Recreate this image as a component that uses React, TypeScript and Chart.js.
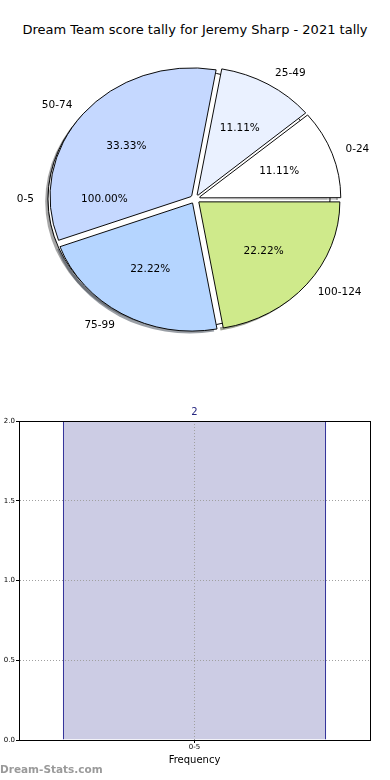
import React, { useEffect, useRef } from 'react';
import { Chart, registerables } from 'chart.js';

Chart.register(...registerables);

const CHART_TITLE = 'Dream Team score tally for Jeremy Sharp - 2021 tally';
const PIE_LABELS = ['0-24', '25-49', '50-74', '75-99', '100-124'];
const PIE_VALUES = [1, 1, 3, 2, 2];
const PIE_COLORS = ['#ffffff', '#eaf1ff', '#c5d8ff', '#b5d5ff', '#cfea8b'];
const BASE_LABELS = ['0-5'];
const BASE_VALUES = [2];
const BASE_COLORS = ['#ffffff'];
const BAR_CATEGORIES = ['0-5'];
const BAR_VALUES = [2];
const Y_TICK_VALUES = [0, 0.5, 1.0, 1.5, 2.0];
const X_AXIS_TITLE = 'Frequency';
const WATERMARK = 'Dream-Stats.com';

const FONT = '"DejaVu Sans", sans-serif';
const PIE_R = 141;
const PIE_YSCALE = 128 / 141;
const EXPLODE_MAIN = 5;
const EXPLODE_BASE = 6;
const BASE_WEIGHT = 0.001;
const SHADOW_DX = -2.8;
const SHADOW_DY = 2.6;
const TAU = Math.PI * 2;

function offsetFor(shift: number) {
  return (c: any) => {
    if (c.type !== 'data') return 0;
    const data = c.dataset.data as number[];
    const total = data.reduce((a, b) => a + b, 0);
    const circ = (data[c.dataIndex] / total) * TAU;
    return (4 * shift) / (2 - Math.sin(Math.min(Math.PI, circ)));
  };
}

function shiftOf(arc: any) {
  const o = (arc.options && arc.options.offset) || 0;
  return (o / 4) * (2 - Math.sin(Math.min(Math.PI, arc.circumference)));
}

function shadowColor(hex: string) {
  const h = String(hex).replace('#', '');
  const r = parseInt(h.slice(0, 2), 16);
  const g = parseInt(h.slice(2, 4), 16);
  const b = parseInt(h.slice(4, 6), 16);
  return `rgba(${Math.round(r * 0.3)},${Math.round(g * 0.3)},${Math.round(b * 0.3)},0.5)`;
}

function applyEllipse(ctx: CanvasRenderingContext2D, cx: number, cy: number) {
  ctx.translate(cx, cy);
  ctx.scale(1, -PIE_YSCALE);
  ctx.translate(-cx, -cy);
}

const pieDecor = {
  id: 'pieDecor',
  beforeDatasetsDraw(chart: any) {
    const ctx: CanvasRenderingContext2D = chart.ctx;
    const metas = [chart.getDatasetMeta(1), chart.getDatasetMeta(0)];
    const first = metas[1].data[0];
    const cx = first.x;
    const cy = first.y;
    ctx.save();
    ctx.translate(SHADOW_DX, SHADOW_DY);
    applyEllipse(ctx, cx, cy);
    metas.forEach((meta: any) => {
      meta.data.forEach((arc: any) => {
        const d = shiftOf(arc);
        const mid = (arc.startAngle + arc.endAngle) / 2;
        const ox = arc.x + Math.cos(mid) * d;
        const oy = arc.y + Math.sin(mid) * d;
        ctx.beginPath();
        if (arc.circumference < TAU - 1e-6) ctx.moveTo(ox, oy);
        ctx.arc(ox, oy, arc.outerRadius, arc.startAngle, arc.endAngle);
        ctx.closePath();
        ctx.fillStyle = shadowColor(arc.options.backgroundColor);
        ctx.fill();
      });
    });
    ctx.restore();
    ctx.save();
    applyEllipse(ctx, cx, cy);
  },
  afterDatasetDraw(chart: any, args: any) {
    if (args.index !== 1) return;
    const ctx: CanvasRenderingContext2D = chart.ctx;
    args.meta.data.forEach((arc: any) => {
      const d = shiftOf(arc);
      const mid = (arc.startAngle + arc.endAngle) / 2;
      const ox = arc.x + Math.cos(mid) * d;
      const oy = arc.y + Math.sin(mid) * d;
      ctx.save();
      ctx.beginPath();
      ctx.arc(ox, oy, arc.outerRadius, 0, TAU);
      ctx.lineWidth = 1;
      ctx.strokeStyle = '#000';
      ctx.stroke();
      ctx.restore();
    });
  },
  afterDatasetsDraw(chart: any) {
    chart.ctx.restore();
  },
  afterDraw(chart: any) {
    const ctx: CanvasRenderingContext2D = chart.ctx;
    ctx.save();
    ctx.font = `10.5px ${FONT}`;
    ctx.fillStyle = '#000';
    ctx.textBaseline = 'middle';
    [1, 0].forEach((di) => {
      const meta = chart.getDatasetMeta(di);
      const names: string[] = chart.data.datasets[di].sliceLabels;
      meta.data.forEach((arc: any, i: number) => {
        const d = shiftOf(arc);
        const mid = (arc.startAngle + arc.endAngle) / 2;
        const c = Math.cos(mid);
        const s = Math.sin(mid);
        const ex = arc.x + c * d;
        const ey = arc.y - PIE_YSCALE * s * d;
        const R = arc.outerRadius;
        ctx.textAlign = c > 0 ? 'left' : 'right';
        ctx.fillText(names[i], ex + 1.1 * R * c, ey - PIE_YSCALE * 1.1 * R * s);
        ctx.textAlign = 'center';
        const pct = ((arc.circumference / TAU) * 100).toFixed(2) + '%';
        ctx.fillText(pct, ex + 0.6 * R * c, ey - PIE_YSCALE * 0.6 * R * s);
      });
    });
    ctx.restore();
  },
};

const barDecor = {
  id: 'barDecor',
  afterDraw(chart: any) {
    const ctx: CanvasRenderingContext2D = chart.ctx;
    const a = chart.chartArea;
    ctx.save();
    ctx.strokeStyle = '#000';
    ctx.lineWidth = 1;
    ctx.strokeRect(
      Math.round(a.left) + 0.5,
      Math.round(a.top) + 0.5,
      Math.round(a.right - a.left),
      Math.round(a.bottom - a.top)
    );
    const meta = chart.getDatasetMeta(0);
    ctx.font = `10px ${FONT}`;
    ctx.fillStyle = '#262680';
    ctx.textAlign = 'center';
    ctx.textBaseline = 'middle';
    meta.data.forEach((bar: any, i: number) => {
      ctx.fillText(String(chart.data.datasets[0].data[i]), bar.x, bar.y - 9);
    });
    ctx.font = `bold 10.5px ${FONT}`;
    ctx.fillStyle = '#9a9a9a';
    ctx.textAlign = 'left';
    ctx.textBaseline = 'alphabetic';
    ctx.fillText(WATERMARK, 0, 383);
    ctx.restore();
  },
};

export default function App() {
  const pieRef = useRef<HTMLCanvasElement | null>(null);
  const barRef = useRef<HTMLCanvasElement | null>(null);

  useEffect(() => {
    if (!pieRef.current || !barRef.current) return;
    const pie = new Chart(pieRef.current, {
      type: 'pie',
      data: {
        labels: PIE_LABELS,
        datasets: [
          {
            data: PIE_VALUES,
            sliceLabels: PIE_LABELS,
            backgroundColor: PIE_COLORS,
            borderColor: '#000000',
            borderWidth: 1,
            borderJoinStyle: 'miter',
            offset: offsetFor(EXPLODE_MAIN),
            rotation: 90,
            radius: PIE_R,
            weight: 1,
          } as any,
          {
            data: BASE_VALUES,
            sliceLabels: BASE_LABELS,
            backgroundColor: BASE_COLORS,
            borderWidth: 0,
            offset: offsetFor(EXPLODE_BASE),
            rotation: 90,
            radius: (PIE_R * (1 + BASE_WEIGHT)) / BASE_WEIGHT,
            weight: BASE_WEIGHT,
          } as any,
        ],
      },
      options: {
        animation: false,
        responsive: false,
        events: [],
        layout: { padding: { top: 20, bottom: 12, left: 0, right: 0 } },
        plugins: {
          legend: { display: false },
          tooltip: { enabled: false },
          title: { display: false },
        },
      } as any,
      plugins: [pieDecor],
    });

    const gridColor = '#a0a0a0';
    const tickFont = { family: FONT, size: 7 };
    const bar = new Chart(barRef.current, {
      type: 'bar',
      data: {
        labels: BAR_CATEGORIES,
        datasets: [
          {
            data: BAR_VALUES,
            backgroundColor: '#ccccE4',
            borderColor: '#000080',
            borderWidth: 1,
            barPercentage: 0.75,
            categoryPercentage: 1,
          },
        ],
      },
      options: {
        animation: false,
        responsive: false,
        events: [],
        layout: { padding: { left: 0, right: 20, top: 31, bottom: 0 } },
        plugins: {
          legend: { display: false },
          tooltip: { enabled: false },
          title: { display: false },
        },
        scales: {
          x: {
            offset: true,
            grid: {
              z: 1,
              offset: false,
              color: gridColor,
              lineWidth: 1,
              tickLength: 3,
              tickColor: '#000',
              tickWidth: 1,
            },
            border: { display: true, color: '#000', dash: [1, 2], z: 1 },
            ticks: { font: tickFont, color: '#000', padding: 0, maxRotation: 0, z: 1 },
            title: {
              display: true,
              text: X_AXIS_TITLE,
              font: { family: FONT, size: 10 },
              color: '#000',
              padding: { top: 0, bottom: 14 },
            },
            afterFit: (s: any) => {
              s.height = 40;
            },
          },
          y: {
            min: Y_TICK_VALUES[0],
            max: Y_TICK_VALUES[Y_TICK_VALUES.length - 1],
            afterBuildTicks: (s: any) => {
              s.ticks = Y_TICK_VALUES.map((v) => ({ value: v }));
            },
            grid: {
              z: 1,
              color: gridColor,
              lineWidth: 1,
              tickLength: 3,
              tickColor: '#000',
              tickWidth: 1,
            },
            border: { display: true, color: '#000', dash: [1, 2], z: 1 },
            ticks: {
              font: tickFont,
              color: '#000',
              padding: 1,
              z: 1,
              callback: (v: any) => Number(v).toFixed(1),
            },
            afterFit: (s: any) => {
              s.width = 19;
            },
          },
        },
      } as any,
      plugins: [barDecor],
    });

    return () => {
      pie.destroy();
      bar.destroy();
    };
  }, []);

  return (
    <div style={{ position: 'absolute', left: 0, top: 0, width: 390, height: 780, background: '#fff' }}>
      <div
        style={{
          position: 'absolute',
          left: 0,
          top: 22,
          width: 390,
          textAlign: 'center',
          fontFamily: FONT,
          fontSize: 13,
          lineHeight: '16px',
          color: '#000',
          whiteSpace: 'nowrap',
        }}
      >
        {CHART_TITLE}
      </div>
      <canvas
        ref={pieRef}
        width={390}
        height={390}
        style={{ position: 'absolute', left: 0, top: 0, width: 390, height: 390 }}
      />
      <canvas
        ref={barRef}
        width={390}
        height={390}
        style={{ position: 'absolute', left: 0, top: 390, width: 390, height: 390 }}
      />
    </div>
  );
}
